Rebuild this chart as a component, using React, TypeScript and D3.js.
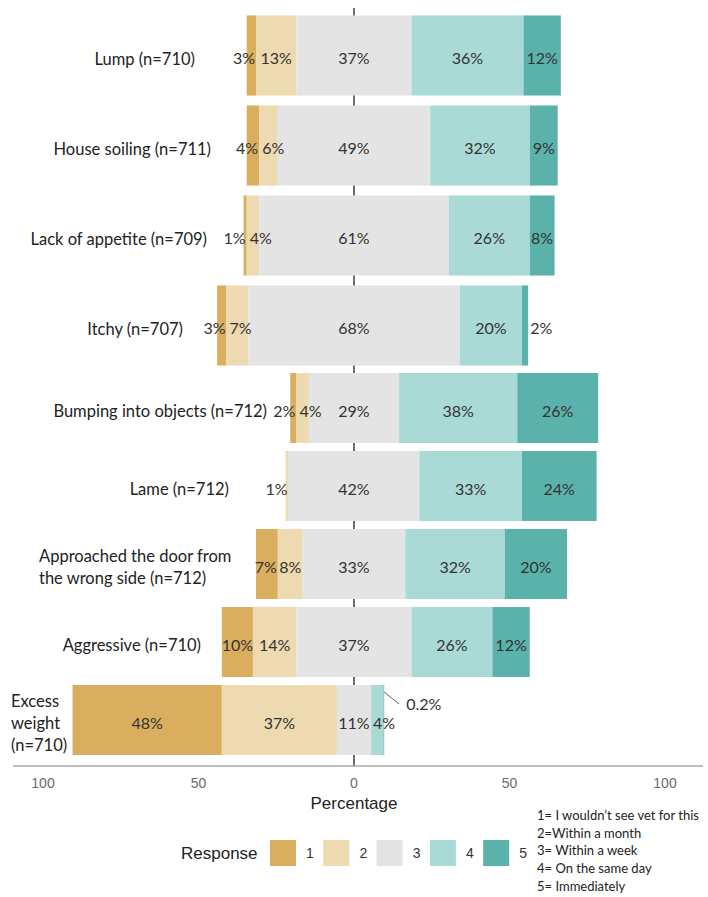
import React from "react";
import * as d3 from "d3";

// ---------- data ----------
const categoryLines: string[][] = [
  ["Lump (n=710)"],
  ["House soiling (n=711)"],
  ["Lack of appetite (n=709)"],
  ["Itchy (n=707)"],
  ["Bumping into objects (n=712)"],
  ["Lame (n=712)"],
  ["Approached the door from", "the wrong side (n=712)"],
  ["Aggressive (n=710)"],
  ["Excess", "weight", "(n=710)"],
];
const categories = categoryLines.map((l) => l.join(" "));

const responses = ["1", "2", "3", "4", "5"];
const resp1 = [3, 4, 1, 3, 2, 0, 7, 10, 48];
const resp2 = [13, 6, 4, 7, 4, 1, 8, 14, 37];
const resp3 = [37, 49, 61, 68, 29, 42, 33, 37, 11];
const resp4 = [36, 32, 26, 20, 38, 33, 32, 26, 4];
const resp5 = [12, 9, 8, 2, 26, 24, 20, 12, 0.2];
const series = [resp1, resp2, resp3, resp4, resp5];

const xTicks = [-100, -50, 0, 50, 100];
const notes = [
  "1= I wouldn\u2019t see vet for this",
  "2=Within a month",
  "3= Within a week",
  "4= On the same day",
  "5= Immediately",
];

// ---------- style / layout ----------
const colors = ["#D9AE5E", "#EDDAB0", "#E4E4E4", "#AADAD6", "#5AB2AA"];
const W = 708;
const H = 897;
const labelFont = "Lato, 'Open Sans', sans-serif";
const axisFont = "'Liberation Sans', Arial, sans-serif";
// category label anchor (x, text-anchor) per row
const labelAnchor: [number, "end" | "start"][] = [
  [195, "end"],
  [211, "end"],
  [207, "end"],
  [183, "end"],
  [267, "end"],
  [229, "end"],
  [39, "start"],
  [201, "end"],
  [11, "start"],
];

export default function App() {
  const x = d3.scaleLinear().domain([-100, 100]).range([43, 665]);
  const yTop = d3
    .scaleBand<string>()
    .domain(categories.slice(0, 4))
    .range([10.5, 370.5])
    .paddingInner(0.11)
    .paddingOuter(0.055);
  const yBot = d3
    .scaleBand<string>()
    .domain(categories.slice(4))
    .range([369, 759])
    .paddingInner(0.1026)
    .paddingOuter(0.0513);
  const yPos = (c: string) =>
    yTop.domain().includes(c) ? yTop(c)! : yBot(c)!;
  const bandH = (c: string) =>
    yTop.domain().includes(c) ? yTop.bandwidth() : yBot.bandwidth();

  const axisY = 766;
  const narrow = 24;

  const rows = categories.map((c, i) => {
    const vals = series.map((s) => s[i]);
    const start = -(vals[0] + vals[1] + vals[2] / 2);
    const cum = Array.from(d3.cumsum(vals));
    const segs = vals.map((v, k) => {
      const a = start + (k === 0 ? 0 : cum[k - 1]);
      const b = start + cum[k];
      return { k, v, x0: x(a), x1: x(b) };
    });
    return { c, i, top: yPos(c), h: bandH(c), segs };
  });

  const fmt = (v: number) => (v < 1 ? `${v}%` : `${Math.round(v)}%`);

  return (
    <svg
      width={W}
      height={H}
      style={{ display: "block", position: "absolute", left: 0, top: 0, background: "#fff" }}
    >
      <rect width={W} height={H} fill="#fff" />
      {/* zero reference line (behind bars) */}
      <line x1={x(0)} x2={x(0)} y1={8} y2={axisY} stroke="#4a4a4a" strokeWidth={1.6} />

      {rows.map((r) => (
        <g key={r.c}>
          {r.segs.map((s) =>
            s.v > 0 ? (
              <rect
                key={s.k}
                x={s.x0}
                y={r.top}
                width={Math.max(0, s.x1 - s.x0)}
                height={r.h}
                fill={colors[s.k]}
              />
            ) : null
          )}
        </g>
      ))}

      {/* percent labels */}
      {rows.map((r) => {
        const cy = r.top + r.h / 2 + 2;
        const nz = r.segs.filter((s) => s.v > 0);
        const leftMost = nz[0].k;
        const rightMost = nz[nz.length - 1].k;
        return (
          <g key={"l" + r.c} fontFamily={labelFont} fontSize={16} fill="#333">
            {r.segs.map((s) => {
              if (s.v <= 0) return null;
              const w = s.x1 - s.x0;
              if (s.v < 1) {
                return (
                  <g key={s.k}>
                    <line
                      x1={s.x1}
                      y1={r.top + 7}
                      x2={s.x1 + 15}
                      y2={r.top + 19}
                      stroke="#666"
                      strokeWidth={1}
                    />
                    <text x={s.x1 + 22} y={r.top + 18} dominantBaseline="central">
                      {fmt(s.v)}
                    </text>
                  </g>
                );
              }
              let tx = (s.x0 + s.x1) / 2;
              let anchor: "middle" | "start" | "end" = "middle";
              if (w < narrow) {
                if (s.k < 2) {
                  if (s.k === leftMost) {
                    tx = s.x1 - 1;
                    anchor = "end";
                  } else {
                    tx = s.x0 + 3;
                    anchor = "start";
                  }
                } else if (s.k > 2) {
                  if (s.k === rightMost) {
                    tx = s.x1 + 2;
                    anchor = "start";
                  } else {
                    tx = s.x0 + 2;
                    anchor = "start";
                  }
                }
              }
              return (
                <text key={s.k} x={tx} y={cy} textAnchor={anchor} dominantBaseline="central">
                  {fmt(s.v)}
                </text>
              );
            })}
          </g>
        );
      })}

      {/* category labels */}
      {rows.map((r) => {
        const lines = categoryLines[r.i];
        const [ax, anchor] = labelAnchor[r.i];
        const lh = 22;
        const cy = r.top + r.h / 2 + 3;
        return (
          <text
            key={"c" + r.c}
            fontFamily={labelFont}
            fontSize={16.5}
            fill="#222"
            textAnchor={anchor}
            dominantBaseline="central"
          >
            {lines.map((ln, j) => (
              <tspan key={j} x={ax} y={cy + (j - (lines.length - 1) / 2) * lh}>
                {ln}
              </tspan>
            ))}
          </text>
        );
      })}

      {/* x axis */}
      <line x1={13} x2={703} y1={axisY} y2={axisY} stroke="#a9a9a9" strokeWidth={1.5} />
      {xTicks.map((t) => (
        <text
          key={t}
          x={x(t)}
          y={783}
          textAnchor="middle"
          dominantBaseline="central"
          fontFamily={axisFont}
          fontSize={14}
          fill="#6b6b6b"
        >
          {Math.abs(t)}
        </text>
      ))}
      <text
        x={x(0)}
        y={803}
        textAnchor="middle"
        dominantBaseline="central"
        fontFamily={axisFont}
        fontSize={17}
        fill="#222"
      >
        Percentage
      </text>

      {/* legend */}
      <text
        x={181}
        y={853}
        dominantBaseline="central"
        fontFamily={axisFont}
        fontSize={17}
        fill="#222"
      >
        Response
      </text>
      {responses.map((rsp, k) => {
        const lx = 270 + k * 53.3;
        return (
          <g key={rsp}>
            <rect x={lx} y={840} width={26} height={26} fill={colors[k]} />
            <text
              x={lx + 40}
              y={853}
              textAnchor="middle"
              dominantBaseline="central"
              fontFamily={axisFont}
              fontSize={14}
              fill="#333"
            >
              {rsp}
            </text>
          </g>
        );
      })}
      {notes.map((n, j) => (
        <text
          key={n}
          x={537}
          y={815 + j * 17.7}
          dominantBaseline="central"
          fontFamily={labelFont}
          fontSize={13}
          fill="#222"
        >
          {n}
        </text>
      ))}
    </svg>
  );
}
